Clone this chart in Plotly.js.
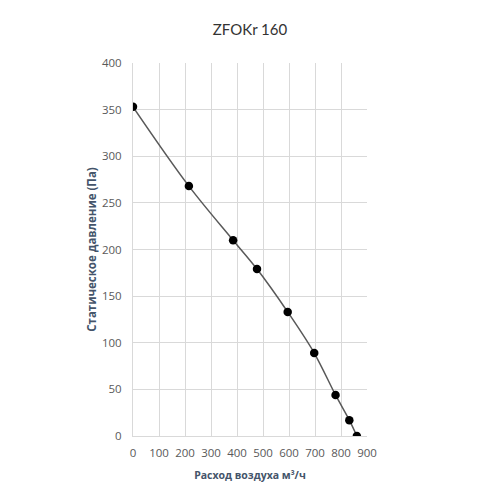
<!DOCTYPE html>
<html>
<head>
<meta charset="utf-8">
<script src="https://cdn.plot.ly/plotly-3.0.1.min.js"></script>
<style>html,body{margin:0;padding:0;background:#fff;}#chart{width:500px;height:500px;}</style>
</head>
<body>
<div id="chart"></div>
<script>
var airflow = [0, 215, 385, 477, 595, 697, 779, 832, 861];
var pressure = [353, 268, 210, 179, 133, 89, 44, 17, 0];
var xTicks = [0, 100, 200, 300, 400, 500, 600, 700, 800, 900];
var yTicks = [0, 50, 100, 150, 200, 250, 300, 350, 400];

var trace = {
  x: airflow,
  y: pressure,
  mode: 'lines+markers',
  type: 'scatter',
  line: {shape: 'spline', color: '#595959', width: 1.5},
  marker: {color: '#000000', size: 8.5},
  hoverinfo: 'none'
};

var layout = {
  width: 500, height: 500,
  margin: {l: 133, r: 133, t: 63, b: 64},
  paper_bgcolor: '#ffffff',
  plot_bgcolor: '#ffffff',
  showlegend: false,
  title: {text: 'ZFOKr 160', x: 0.5, xanchor: 'center', y: 0.94, yanchor: 'middle',
    font: {family: 'Lato, "Open Sans", sans-serif', size: 15, color: '#333333'}},
  xaxis: {
    range: [0, 900], tickvals: xTicks, ticktext: xTicks.map(String),
    showgrid: true, gridcolor: '#d9d9d9', gridwidth: 1,
    zeroline: false, showline: true, linecolor: '#d9d9d9', linewidth: 1,
    ticks: '', ticklabelstandoff: 6,
    tickfont: {family: '"Open Sans", "Noto Sans", sans-serif', size: 11.5, color: '#595959'},
    title: {text: 'Расход воздуха м³/ч', standoff: 12,
      font: {family: '"Open Sans", "Noto Sans", sans-serif', size: 10.5, color: '#44546a', weight: 'bold'}}
  },
  yaxis: {
    range: [0, 400], tickvals: yTicks, ticktext: yTicks.map(String),
    showgrid: true, gridcolor: '#d9d9d9', gridwidth: 1,
    zeroline: false, showline: true, linecolor: '#d9d9d9', linewidth: 1,
    ticks: '', ticklabelstandoff: 8,
    tickfont: {family: '"Open Sans", "Noto Sans", sans-serif', size: 11.5, color: '#595959'},
    title: {text: 'Статическое давление (Па)', standoff: 2,
      font: {family: '"Open Sans", "Noto Sans", sans-serif', size: 11.5, color: '#44546a', weight: 'bold'}}
  }
};

Plotly.newPlot('chart', [trace], layout, {staticPlot: true, displayModeBar: false});
</script>
</body>
</html>
